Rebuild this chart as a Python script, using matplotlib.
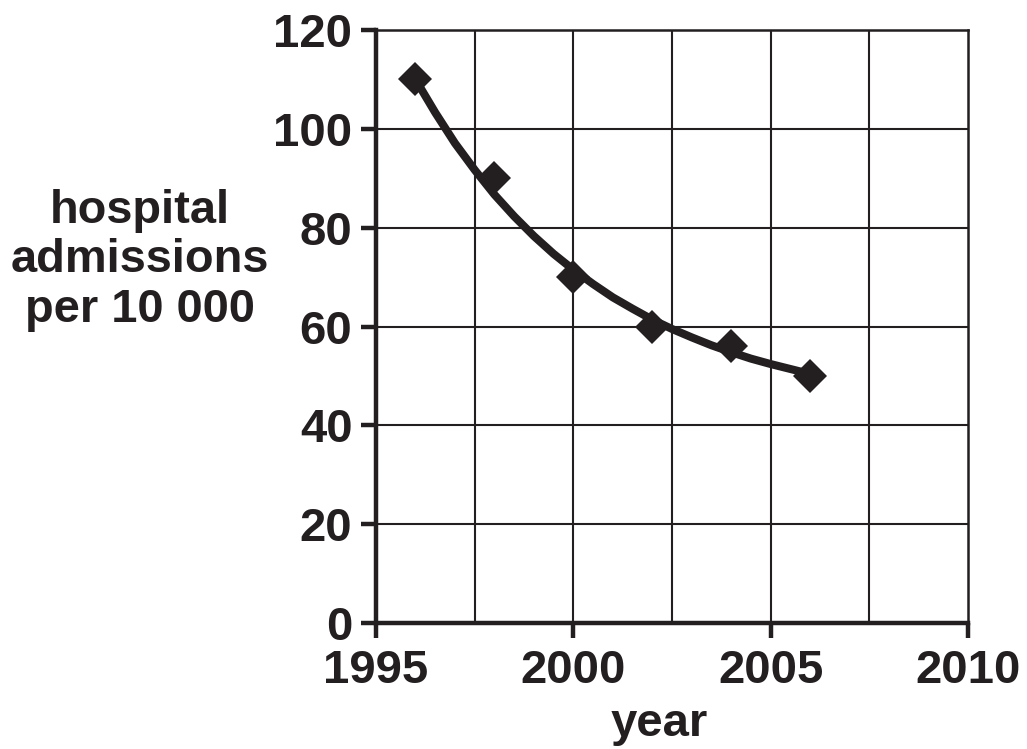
import matplotlib
matplotlib.use("Agg")
import matplotlib.pyplot as plt

# data points
years = [1996, 1998, 2000, 2002, 2004, 2006]
admissions = [110, 90, 70, 60, 56, 50]

# trend curve (half-year steps)
curve_years = [1996, 1996.5, 1997, 1997.5, 1998, 1998.5, 1999, 1999.5, 2000, 2000.5,
               2001, 2001.5, 2002, 2002.5, 2003, 2003.5, 2004, 2004.5, 2005, 2005.5, 2006]
curve_vals = [110, 103.3, 97.1, 91.7, 86.7, 82.3, 78.3, 74.7, 71.5, 68.6,
              65.9, 63.6, 61.4, 59.5, 57.8, 56.2, 54.8, 53.5, 52.4, 51.4, 50.4]

x_ticks = [1995, 2000, 2005, 2010]
x_grid = [1997.5, 2000, 2002.5, 2005, 2007.5]
y_ticks = [0, 20, 40, 60, 80, 100, 120]
y_label_lines = ["hospital", "admissions", "per 10 000"]
x_label = "year"

ink = "#231f20"
plt.rcParams['font.family'] = ['Liberation Sans', 'DejaVu Sans']
plt.rcParams['font.weight'] = 'bold'

fig = plt.figure(figsize=(10.27, 7.49), dpi=100)
ax = fig.add_axes([376/1027, 1-623/749, (968-376)/1027, (623-30)/749])

ax.set_xlim(1995, 2010)
ax.set_ylim(0, 120)

for gx in x_grid:
    ax.axvline(gx, color=ink, lw=1.5, zorder=1)
for gy in y_ticks[1:-1]:
    ax.axhline(gy, color=ink, lw=1.5, zorder=1)

ax.plot(curve_years, curve_vals, color=ink, lw=5.8, solid_capstyle='butt', zorder=3)
ax.plot(years, admissions, linestyle='none', marker='D', markersize=17.5,
        color=ink, markeredgewidth=0, zorder=4)

for s in ['top', 'right']:
    ax.spines[s].set_linewidth(1.8)
    ax.spines[s].set_color(ink)
for s in ['left', 'bottom']:
    ax.spines[s].set_linewidth(3.2)
    ax.spines[s].set_color(ink)

ax.set_xticks(x_ticks)
ax.set_xticklabels([str(v) for v in x_ticks])
ax.set_yticks(y_ticks)
ax.set_yticklabels([str(v) for v in y_ticks])
ax.tick_params(axis='x', length=11, width=3.2, color=ink, pad=8, labelsize=34, labelcolor=ink)
ax.tick_params(axis='y', length=11, width=3.2, color=ink, pad=6, labelsize=34, labelcolor=ink)
for lab in ax.get_xticklabels() + ax.get_yticklabels():
    lab.set_fontweight('bold')

fig.text(659/1027, 1-736/749, x_label, ha='center', va='baseline', fontsize=34,
         fontweight='bold', color=ink)
for line, base in zip(y_label_lines, [223, 272, 322]):
    fig.text(140/1027, 1-base/749, line, ha='center', va='baseline',
             fontsize=33.8, fontweight='bold', color=ink)

fig.savefig("out.png", dpi=100)
